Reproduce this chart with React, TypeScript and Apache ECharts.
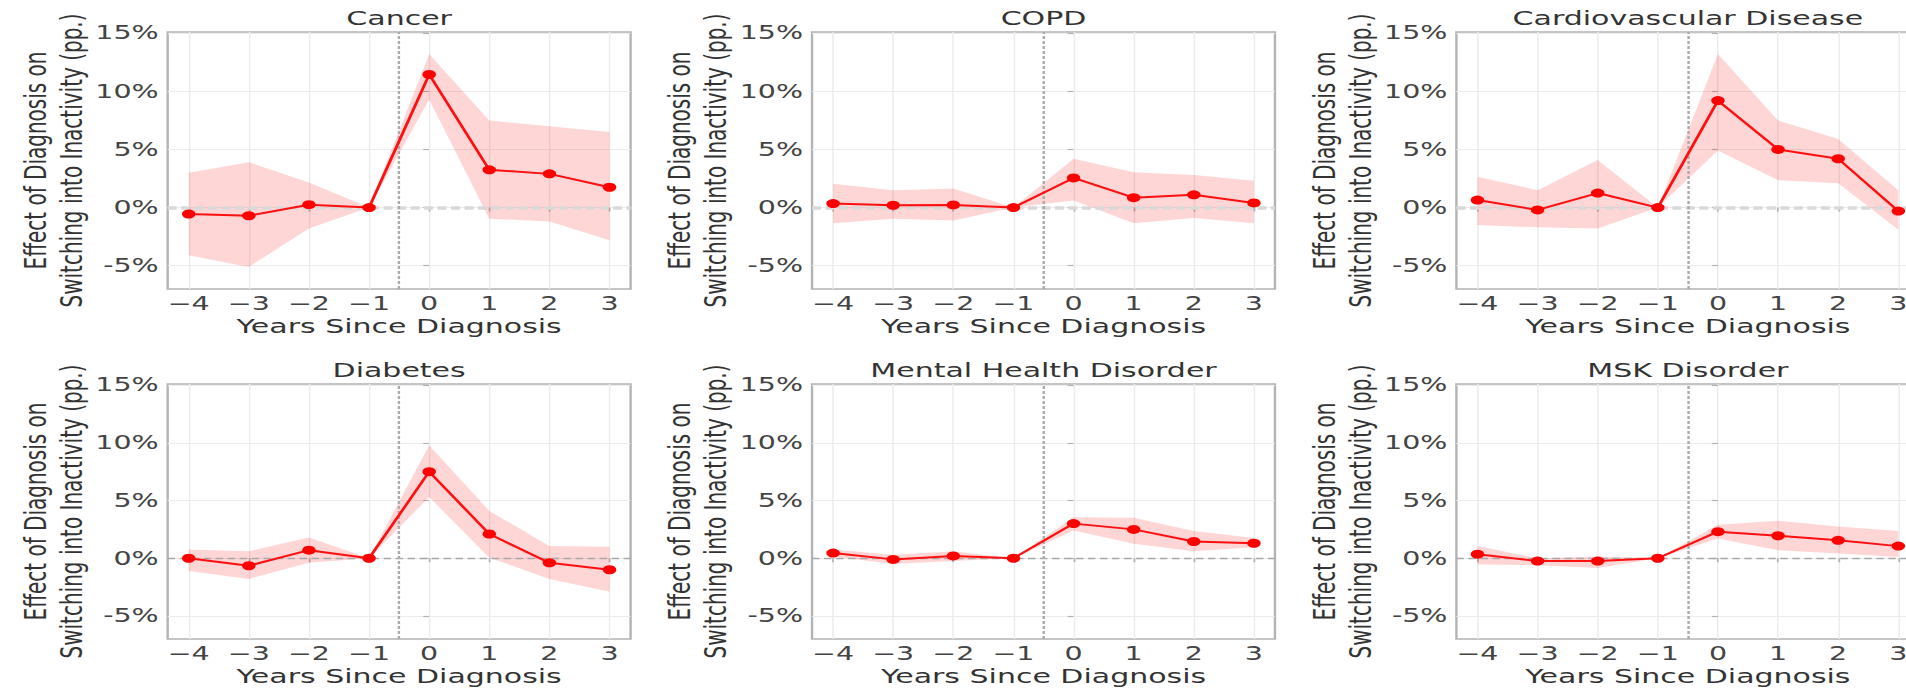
import React, { useEffect, useRef } from "react";
import * as echarts from "echarts";

// ---- data ----
const years = [-4, -3, -2, -1, 0, 1, 2, 3];
const yTicks = [-5, 0, 5, 10, 15];
const titles = ["Cancer", "COPD", "Cardiovascular Disease", "Diabetes", "Mental Health Disorder", "MSK Disorder"];
const xName = "Years Since Diagnosis";
const yName = "Effect of Diagnosis on\nSwitching into Inactivity (pp.)";

const cancerEst = [-0.55, -0.7, 0.25, 0, 11.45, 3.25, 2.9, 1.75];
const cancerLow = [-4.1, -5.1, -1.8, 0, 9.3, -0.95, -1.2, -2.8];
const cancerHigh = [3.0, 3.9, 2.15, 0, 13.2, 7.5, 7.0, 6.5];

const copdEst = [0.35, 0.2, 0.23, 0, 2.55, 0.85, 1.1, 0.4];
const copdLow = [-1.35, -0.95, -1.1, 0, 0.6, -1.35, -0.9, -1.35];
const copdHigh = [2.05, 1.5, 1.65, 0, 4.2, 3.05, 2.8, 2.3];

const cvdEst = [0.65, -0.2, 1.25, 0, 9.2, 5.0, 4.2, -0.3];
const cvdLow = [-1.5, -1.7, -1.8, 0, 4.9, 2.35, 2.1, -1.9];
const cvdHigh = [2.65, 1.5, 4.1, 0, 13.2, 7.5, 5.9, 1.5];

const diabetesEst = [0.0, -0.65, 0.7, 0, 7.5, 2.1, -0.4, -1.0];
const diabetesLow = [-1.1, -1.8, -0.4, 0, 5.3, 0.05, -1.8, -2.9];
const diabetesHigh = [0.75, 0.6, 1.8, 0, 9.8, 4.1, 1.05, 1.0];

const mentalEst = [0.45, -0.1, 0.2, 0, 3.0, 2.5, 1.45, 1.3];
const mentalLow = [0.15, -0.5, -0.25, 0, 2.4, 1.25, 0.6, 0.95];
const mentalHigh = [0.75, 0.3, 0.6, 0, 3.55, 3.5, 2.35, 1.75];

const mskEst = [0.35, -0.25, -0.25, 0, 2.3, 1.95, 1.55, 1.05];
const mskLow = [-0.55, -0.6, -0.85, 0, 1.7, 0.7, 0.4, 0.1];
const mskHigh = [1.05, 0.0, 0.15, 0, 2.9, 3.25, 2.75, 2.35];

const estimates = [cancerEst, copdEst, cvdEst, diabetesEst, mentalEst, mskEst];
const lows = [cancerLow, copdLow, cvdLow, diabetesLow, mentalLow, mskLow];
const highs = [cancerHigh, copdHigh, cvdHigh, diabetesHigh, mentalHigh, mskHigh];

// ---- layout (inner, unstretched px) ----
const FULL_W = 1906;
const W = 1271;
const H = 693;
const SX = FULL_W / W;
const gridLeft = [111.8, 541.5, 971.2];
const gridWidth = 308.7;
const rowTop = [32, 384];
const rowHeight = [257, 255];
const FONT = "DejaVu Sans";

function buildOption() {
  const grid: any[] = [];
  const xAxis: any[] = [];
  const yAxis: any[] = [];
  const series: any[] = [];
  const title: any[] = [];
  titles.forEach((t, i) => {
    const col = i % 3;
    const row = Math.floor(i / 3);
    grid.push({
      left: gridLeft[col],
      top: rowTop[row],
      width: gridWidth,
      height: rowHeight[row],
      show: true,
      borderColor: "#b3b3b3",
      borderWidth: 1.6,
      backgroundColor: "transparent",
      containLabel: false,
      outerBoundsMode: "none",
    });
    title.push({
      text: t,
      left: gridLeft[col] + gridWidth / 2,
      top: rowTop[row] - 24,
      textAlign: "center",
      padding: 0,
      textStyle: { fontFamily: FONT, fontSize: 20, fontWeight: "normal", color: "#333" },
    });
    xAxis.push({
      type: "value",
      gridIndex: i,
      min: -4.35,
      max: 3.35,
      name: xName,
      nameLocation: "middle",
      nameGap: 27,
      nameTextStyle: { fontFamily: FONT, fontSize: 20, color: "#333" },
      axisLine: { show: false },
      axisTick: { show: true, customValues: years, length: 4, lineStyle: { color: "#b3b3b3", width: 1.2 } },
      axisLabel: {
        customValues: years,
        margin: 5,
        fontFamily: FONT,
        fontSize: 19,
        color: "#444",
        hideOverlap: false,
        formatter: (v: number) => (v < 0 ? "\u2212" + Math.abs(v) : String(v)),
      },
      splitLine: { show: true, lineStyle: { color: "#ececec", width: 1 } },
    });
    yAxis.push({
      type: "value",
      gridIndex: i,
      min: -7,
      max: 15.1,
      name: yName,
      nameLocation: "middle",
      nameGap: 48,
      nameTextStyle: { fontFamily: FONT, fontSize: 20, color: "#333", lineHeight: 24, align: "center" },
      axisLine: { show: false },
      axisTick: { show: true, customValues: yTicks, length: 4, lineStyle: { color: "#b3b3b3", width: 1.2 } },
      axisLabel: {
        customValues: yTicks,
        margin: 6,
        fontFamily: FONT,
        fontSize: 19,
        color: "#444",
        formatter: (v: number) => v + "%",
      },
      splitLine: { show: true, lineStyle: { color: "#ececec", width: 1 } },
    });
    const est = estimates[i];
    const low = lows[i];
    const high = highs[i];
    series.push({
      type: "custom",
      xAxisIndex: i,
      yAxisIndex: i,
      data: years.map((x, k) => [x, low[k], high[k]]),
      encode: { x: 0, y: [1, 2] },
      silent: true,
      clip: true,
      z: 1,
      renderItem: (params: any, api: any) => {
        if (params.dataIndex !== 0) return null;
        const pts: number[][] = [];
        for (let k = 0; k < years.length; k++) pts.push(api.coord([years[k], high[k]]));
        for (let k = years.length - 1; k >= 0; k--) pts.push(api.coord([years[k], low[k]]));
        return {
          type: "polygon",
          shape: { points: pts },
          style: { fill: "rgba(255,0,0,0.16)", stroke: "none" },
          silent: true,
        };
      },
    });
    // reference lines (below the estimate line)
    series.push({
      type: "line",
      xAxisIndex: i,
      yAxisIndex: i,
      data: years.map((x, k) => [x, est[k]]),
      symbol: "none",
      lineStyle: { opacity: 0 },
      silent: true,
      z: 2,
      markLine: {
        silent: true,
        symbol: ["none", "none"],
        label: { show: false },
        data: [
          {
            yAxis: 0,
            lineStyle: row === 0
              ? { type: [6, 3], color: "#d9d9d9", width: 3.5 }
              : { type: [5, 3], color: "#a8a8a8", width: 1.4 },
          },
          { xAxis: -0.5, lineStyle: { type: [3, 2], color: "#ababab", width: 1.6 } },
        ],
      },
    });
    series.push({
      type: "line",
      xAxisIndex: i,
      yAxisIndex: i,
      data: years.map((x, k) => [x, est[k]]),
      symbol: "circle",
      symbolSize: 9,
      itemStyle: { color: "#ff0000" },
      lineStyle: { color: "#ff1010", width: 2 },
      z: 6,
    });
  });
  return {
    animation: false,
    backgroundColor: "#ffffff",
    title,
    grid,
    xAxis,
    yAxis,
    series,
  };
}

export default function App() {
  const ref = useRef<HTMLDivElement>(null);
  useEffect(() => {
    document.body.style.margin = "0";
    document.body.style.overflow = "hidden";
    if (!ref.current) return;
    const chart = echarts.init(ref.current, null, { renderer: "svg", width: W, height: H });
    chart.setOption(buildOption() as any);
    return () => chart.dispose();
  }, []);
  return (
    <div
      ref={ref}
      style={{
        position: "absolute",
        left: 0,
        top: 0,
        width: W,
        height: H,
        transform: `scaleX(${SX})`,
        transformOrigin: "0 0",
        background: "#fff",
      }}
    />
  );
}
